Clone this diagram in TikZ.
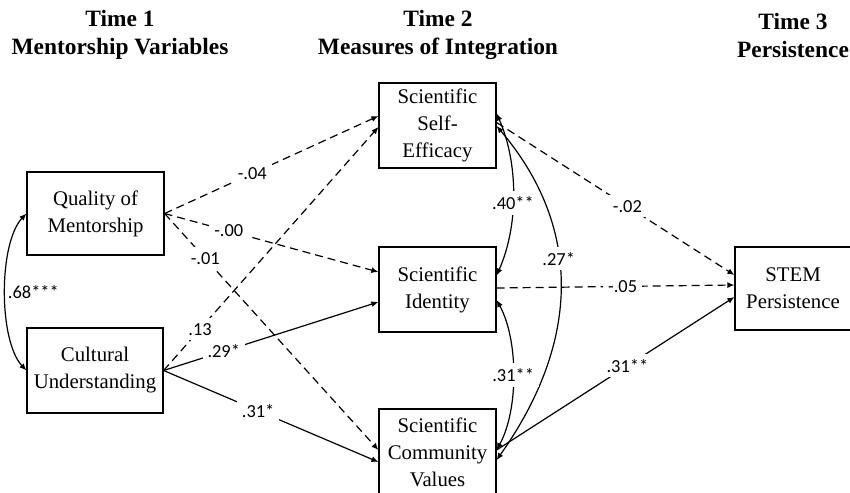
\documentclass[tikz,border=0pt]{standalone}
\usepackage{fontspec}
\setmainfont{Liberation Serif}
\newfontfamily\numfont{Carlito}
\usetikzlibrary{arrows.meta,calc}
\begin{document}
\begin{tikzpicture}[x=0.5pt,y=-0.5pt,
    box/.style = {draw,line width=0.6pt,align=center,inner sep=0pt,
                  font=\fontsize{10.4}{13.5}\selectfont},
    head/.style = {align=center,font=\fontsize{11.7}{14}\selectfont\bfseries},
    arrow/.style = {line width=0.6pt,-{Latex[length=3.5pt,width=3pt]}},
    cov/.style = {line width=0.6pt,{Latex[length=3.5pt,width=3pt]}-{Latex[length=3.5pt,width=3pt]}},
    nsig/.style = {dash pattern=on 4pt off 2.5pt},
    coef/.style = {fill=white,inner sep=2.5pt,font=\fontsize{9.2}{11}\selectfont\numfont}]
    \useasboundingbox (0,0) rectangle (850,492);

    % headings
    \node[head] (t1) at (120,35) {Time 1\\Mentorship Variables};
    \node[head] (t2) at (438,35) {Time 2\\Measures of Integration};
    \node[head] (t3) at (793,35) {Time 3\\Persistence};

    % variables
    \node[box,minimum width=68.5pt,minimum height=41.5pt] (qom) at (95.5,213.5) {Quality of\\Mentorship};
    \node[box,minimum width=68pt,minimum height=42.5pt] (cu) at (95,370.5) {Cultural\\Understanding};
    \node[box,minimum width=58.5pt,minimum height=42.5pt] (sse) at (437.5,125.5) {Scientific\\Self-\\Efficacy};
    \node[box,minimum width=58.5pt,minimum height=42.5pt] (si) at (437.5,289.5) {Scientific\\Identity};
    \node[box,minimum width=58.5pt,minimum height=43pt] (scv) at (437.5,452) {Scientific\\Community\\Values};
    \node[box,minimum width=58pt,minimum height=41.5pt] (stem) at (793,288.5) {STEM\\Persistence};

    % time 1 -> time 2
    \draw[arrow,nsig] (qom.east) -- node[coef,pos=.41] {-.04} ($(sse.west)+(0,-9.5)$);
    \draw[arrow,nsig] (qom.east) -- node[coef,pos=.30] {-.00} ($(si.west)+(0,-17.5)$);
    \draw[arrow,nsig] (qom.east) -- node[coef,pos=.19] {-.01} ($(scv.west)+(0,-2)$);
    \draw[arrow,nsig] (cu.east) -- node[coef,pos=.17] {.13} ($(sse.west)+(0,1.5)$);
    \draw[arrow] (cu.east) -- node[coef,pos=.28] {.29*} ($(si.west)+(0,12.5)$);
    \draw[arrow] (cu.east) -- node[coef,pos=.44] {.31*} ($(scv.west)+(0,10)$);

    % time 2 -> time 3
    \draw[arrow,nsig] ($(sse.east)+(0,-3)$) -- node[coef,pos=.55] {-.02} ($(stem.west)+(0,-13.5)$);
    \draw[arrow,nsig] ($(si.east)+(0,-1.5)$) -- node[coef,pos=.53] {-.05} ($(stem.west)+(0,-3.5)$);
    \draw[arrow] ($(scv.east)+(0,-2)$) -- node[coef,pos=.55] {.31**} ($(stem.west)+(0,8.5)$);

    % correlations
    \draw[cov] (qom.west) .. controls +(-28,30) and +(-28,-30) .. node[coef,pos=.5,anchor=west,inner sep=1pt] {.68***} (cu.west);
    \draw[cov] ($(sse.east)+(0,-12)$) .. controls +(22,50) and +(22,-50) .. node[coef,pos=.55] {.40**} ($(si.east)+(0,-14)$);
    \draw[cov] ($(sse.east)+(0,0.5)$) .. controls +(85,100) and +(85,-120) .. node[coef,pos=.42] {.27*} ($(scv.east)+(0,8)$);
    \draw[cov] ($(si.east)+(0,10.5)$) .. controls +(22,40) and +(22,-40) .. node[coef,pos=.5] {.31**} ($(scv.east)+(0,-2)$);
\end{tikzpicture}
\end{document}
